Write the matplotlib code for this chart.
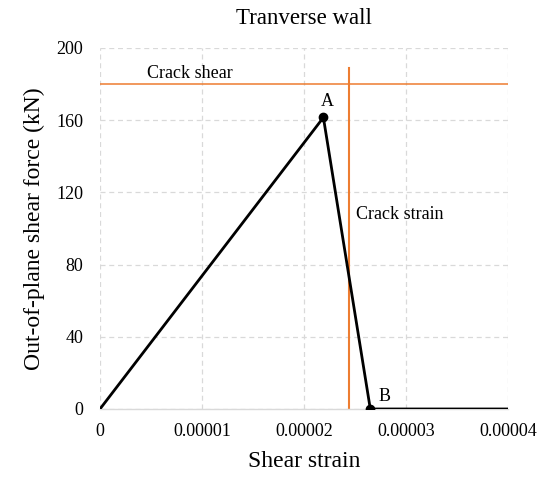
import matplotlib
matplotlib.use("Agg")
import matplotlib.pyplot as plt

# Shear response of the transverse wall
strain = [0.0, 0.0000219, 0.0000265, 0.00004]
force = [0.0, 161.5, 0.0, 0.0]
point_labels = ["A", "B"]
point_strain = [0.0000219, 0.0000265]
point_force = [161.5, 0.0]

crack_shear = 180.0
crack_strain = 0.0000244
crack_strain_top = 189.0

x_ticks = [0, 0.00001, 0.00002, 0.00003, 0.00004]
x_ticklabels = ["0", "0.00001", "0.00002", "0.00003", "0.00004"]
y_ticks = [0, 40, 80, 120, 160, 200]

plt.rcParams["font.family"] = ["Liberation Serif", "DejaVu Serif"]

fig = plt.figure(figsize=(5.42, 4.78), dpi=100)
ax = fig.add_axes([0.1845, 0.1444, 0.7528, 0.7552])

orange = "#ED7D31"
ax.axhline(crack_shear, color=orange, lw=1.3, alpha=0.85, zorder=2)
ax.plot([crack_strain, crack_strain], [0, crack_strain_top], color=orange, lw=1.5, zorder=2)

ax.plot(strain, force, color="black", lw=2, zorder=3)
ax.plot(point_strain, point_force, "o", color="black", ms=6, zorder=4)

ax.text(point_strain[0] + 0.0000004, point_force[0] + 4, point_labels[0], fontsize=13,
        ha="center", va="bottom")
ax.text(point_strain[1] + 0.0000008, point_force[1] + 2, point_labels[1], fontsize=13,
        ha="left", va="bottom")
ax.text(0.0000088, crack_shear + 1.0, "Crack shear", fontsize=13, ha="center", va="bottom")
ax.text(0.0000251, 108, "Crack strain", fontsize=13, ha="left", va="center")

ax.set_xlim(0, 0.00004)
ax.set_ylim(0, 200)
ax.set_xticks(x_ticks)
ax.set_xticklabels(x_ticklabels)
ax.set_yticks(y_ticks)
ax.tick_params(axis="x", length=0, labelsize=13, pad=10)
ax.tick_params(axis="y", length=0, labelsize=13, pad=12)

ax.grid(True, color="#D9D9D9", ls=(0, (4, 3)), lw=0.9)
for side in ["top", "right", "left"]:
    ax.spines[side].set_visible(False)
ax.spines["bottom"].set_color("#D9D9D9")
ax.spines["bottom"].set_linewidth(1.0)

ax.set_title("Tranverse wall", fontsize=16.5, pad=17)
ax.set_xlabel("Shear strain", fontsize=17, labelpad=8)
ax.set_ylabel("Out-of-plane shear force (kN)", fontsize=17, labelpad=8)

fig.savefig("out.png", dpi=100)
